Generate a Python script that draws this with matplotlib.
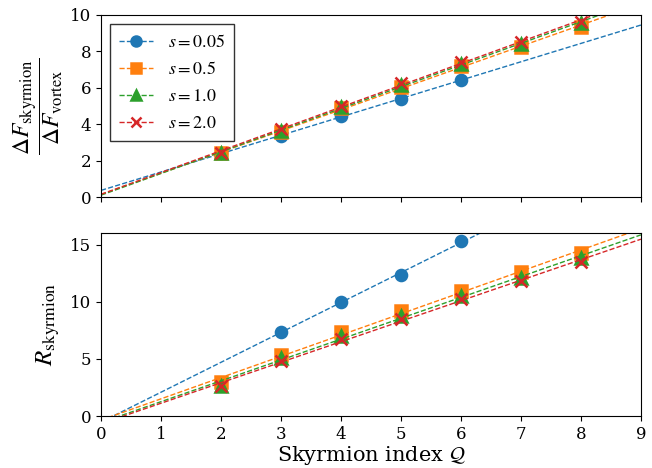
import numpy as np
import matplotlib
matplotlib.use('Agg')
import matplotlib.pyplot as plt

plt.rcParams['font.family'] = 'DejaVu Serif'
plt.rcParams['mathtext.fontset'] = 'stix'

# skyrmion index per series
Q = [2, 3, 4, 5, 6, 7, 8]
Q_s005 = [2, 3, 4, 5, 6]

s_labels = ['0.05', '0.5', '1.0', '2.0']

# free energy ratio dF_skyrmion / dF_vortex
ratio_s005 = [2.40, 3.35, 4.45, 5.38, 6.43]
ratio_s05 = [2.40, 3.59, 4.87, 6.03, 7.20, 8.26, 9.36]
ratio_s10 = [2.40, 3.65, 4.93, 6.15, 7.33, 8.40, 9.55]
ratio_s20 = [2.43, 3.74, 5.00, 6.25, 7.43, 8.50, 9.63]

# skyrmion radius
R_s005 = [7.35, 10.0, 12.3, 15.3]
Q_R_s005 = [3, 4, 5, 6]
R_s05 = [3.0, 5.3, 7.35, 9.15, 10.9, 12.6, 14.3]
R_s10 = [2.65, 5.05, 7.0, 8.75, 10.5, 12.1, 13.8]
R_s20 = [2.6, 4.8, 6.7, 8.45, 10.2, 11.8, 13.5]

colors = ['#1f77b4', '#ff7f0e', '#2ca02c', '#d62728']
markers = ['o', 's', '^', 'x']

top_sets = [(Q_s005, ratio_s005), (Q, ratio_s05), (Q, ratio_s10), (Q, ratio_s20)]
bot_sets = [(Q_R_s005, R_s005), (Q, R_s05), (Q, R_s10), (Q, R_s20)]

fig = plt.figure(figsize=(6.52, 4.68), dpi=100)
ax1 = fig.add_axes([0.155, 0.579, 0.828, 0.389])
ax2 = fig.add_axes([0.155, 0.111, 0.828, 0.391], sharex=ax1)

xfit = np.array([0, 9])
handles = []
for ax, sets in [(ax1, top_sets), (ax2, bot_sets)]:
    for i, (x, y) in enumerate(sets):
        p = np.polyfit(x, y, 1)
        ln, = ax.plot(xfit, np.polyval(p, xfit), '--', color=colors[i], lw=1)
        mk, = ax.plot(x, y, linestyle='none', marker=markers[i], color=colors[i],
                      ms=8, mew=1.8)
        if ax is ax1:
            handles.append((ln, mk))

ax1.set_xlim(0, 9)
ax1.set_ylim(0, 10)
ax2.set_ylim(0, 16)
ax1.set_xticks(range(10))
ax1.set_yticks([0, 2, 4, 6, 8, 10])
ax2.set_yticks([0, 5, 10, 15])
ax1.tick_params(labelbottom=False, labelsize=12)
ax2.tick_params(labelsize=12)

ax1.set_ylabel(r'$\dfrac{\Delta F_{\rm skyrmion}}{\Delta F_{\rm vortex}}$', fontsize=17,
               labelpad=4)
ax2.set_ylabel(r'$R_{\rm skyrmion}$', fontsize=18, labelpad=6)
ax2.set_xlabel(r'Skyrmion index $\mathcal{Q}$', fontsize=15, labelpad=1)

leg = ax1.legend(handles, [r'$s = %s$' % s for s in s_labels], loc='upper left',
                 fontsize=13, fancybox=False, edgecolor='#333333', framealpha=1,
                 handlelength=1.9, borderpad=0.5, markerscale=0.9)

fig.savefig('out.png', dpi=100)
